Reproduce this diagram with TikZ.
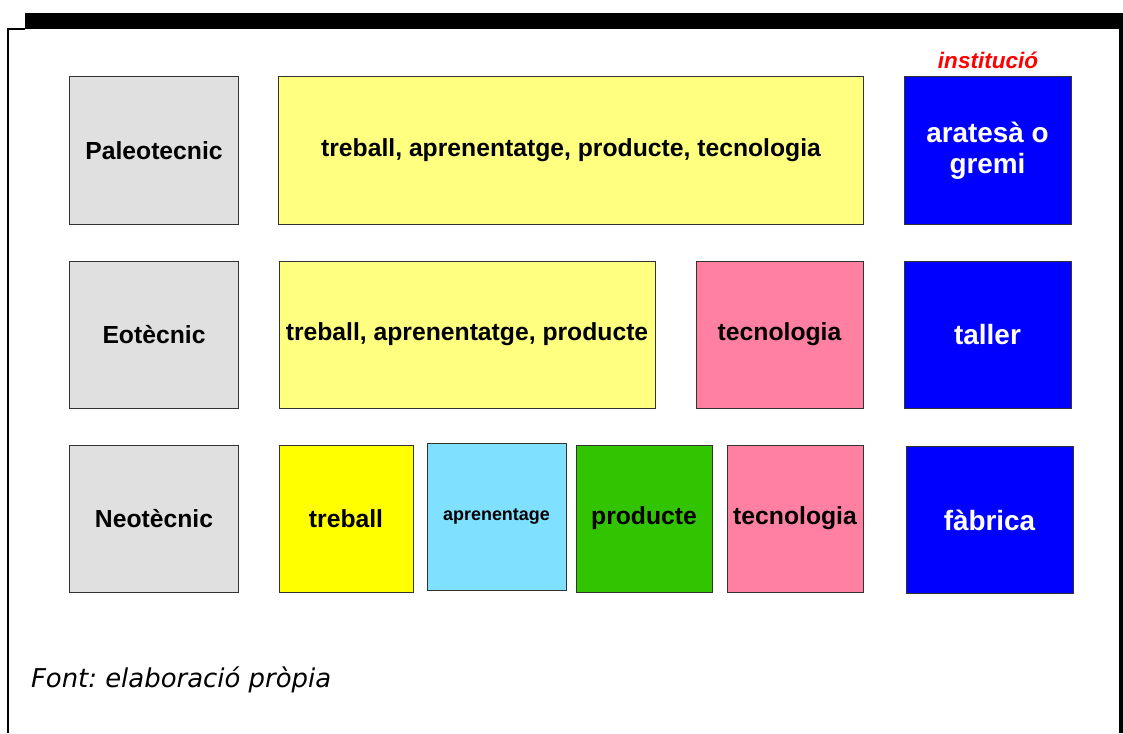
\documentclass[tikz,border=0pt]{standalone}
\usepackage{fontspec}
\setmainfont{Liberation Sans}
\newfontfamily\notefont{DejaVu Sans}
\usepackage{tikz}
\frenchspacing
\definecolor{grisclar}{RGB}{224,224,224}
\definecolor{grocclar}{RGB}{255,255,128}
\definecolor{groc}{RGB}{255,255,0}
\definecolor{rosa}{RGB}{255,128,160}
\definecolor{blau}{RGB}{0,0,255}
\definecolor{blauclar}{RGB}{128,224,255}
\definecolor{verd}{RGB}{51,196,0}
\tikzset{
  caixa/.style={draw=black!80, line width=0.5bp, inner sep=0pt, minimum height=73.5bp,
    font=\fontsize{12.4}{14}\selectfont\bfseries},
  epoca/.style={caixa, fill=grisclar, minimum width=84bp},
  inst/.style={caixa, fill=blau, text=white, minimum width=83.5bp, align=center,
    font=\fontsize{14}{15.5}\selectfont\bfseries}
}
\begin{document}
\begin{tikzpicture}[x=0.5bp, y=-0.5bp]
\useasboundingbox (0,0) rectangle (1123,733);
% marc
\fill (25,13) rectangle (1123,29);
\draw[line width=1bp] (8,733) |- (25,29);
\draw[line width=2bp] (1121,29) -- (1121,733);
\node[text=red, font=\fontsize{11.3}{13}\selectfont\bfseries\itshape] (titol) at (988,60) {institució};
% fila 1
\node[epoca] (paleo) at (154,150.5) {Paleotecnic};
\node[caixa, fill=grocclar, minimum width=292bp] (tot1) at (571,150.5) {treball, aprenentatge, producte, tecnologia};
\node[inst] (gremi) at (987.5,150.5) {aratesà o\\gremi};
% fila 2
\node[epoca] (eo) at (154,334.5) {Eotècnic};
\node[caixa, fill=grocclar, minimum width=188bp] (tot2) at (467,334.5) {treball, aprenentatge, producte};
\node[caixa, fill=rosa, minimum width=83.5bp] (tec2) at (779.5,334.5) {tecnologia};
\node[inst] (taller) at (987.5,334.5) {taller};
% fila 3
\node[epoca] (neo) at (154,518.5) {Neotècnic};
\node[caixa, fill=groc, minimum width=67bp] (treb3) at (346,518.5) {treball};
\node[caixa, fill=blauclar, minimum width=69.5bp, font=\fontsize{9}{11}\selectfont\bfseries] (apr3) at (496.5,516.5) {aprenentage};
\node[caixa, fill=verd, minimum width=68bp] (prod3) at (644,518.5) {producte};
\node[caixa, fill=rosa, minimum width=68bp] (tec3) at (795,518.5) {tecnologia};
\node[inst] (fabrica) at (989.5,520) {fàbrica};
% peu
\node[anchor=west, font=\notefont\fontsize{13}{15}\selectfont\itshape] (font) at (24,680) {Font: elaboració pròpia};
\end{tikzpicture}
\end{document}
